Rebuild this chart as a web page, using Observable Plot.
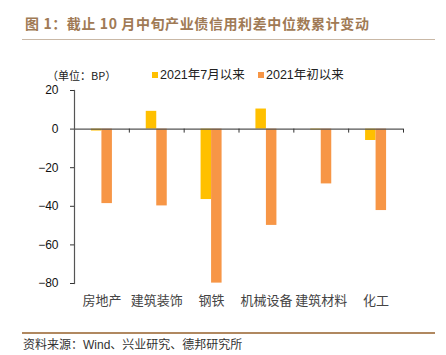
<!DOCTYPE html>
<html>
<head>
<meta charset="utf-8">
<script src="https://cdn.jsdelivr.net/npm/d3@7"></script>
<script src="https://cdn.jsdelivr.net/npm/@observablehq/plot@0.6"></script>
<style>
  html, body { margin: 0; padding: 0; background: #fff; }
  #page { position: relative; width: 446px; height: 355px; overflow: hidden; font-family: "Liberation Sans", "Noto Sans CJK SC", sans-serif; }
  #title { position: absolute; left: 25px; top: 14px; font: bold 14px "Noto Sans CJK SC", sans-serif; letter-spacing: 0.6px; color: #a07a55; white-space: nowrap; line-height: 18px; }
  #titleLine { position: absolute; left: 22px; top: 39px; width: 413px; height: 1px; background: #c9b8a6; }
  #unit { position: absolute; left: 47px; top: 68px; font: 11px "Noto Sans CJK SC", sans-serif; color: #222; line-height: 14px; white-space: nowrap; }
  .leg { position: absolute; top: 67px; font: 12.5px "Liberation Sans", "Noto Sans CJK SC", sans-serif; color: #222; line-height: 16px; white-space: nowrap; display: flex; align-items: center; }
  .sw { display: inline-block; width: 6px; height: 6px; margin-right: 2px; }
  #chart { position: absolute; left: 0; top: 80px; }
  #capLine { position: absolute; left: 22px; top: 332px; width: 413px; height: 2px; background: #b08860; }
  #caption { position: absolute; left: 23px; top: 337px; font: 12px "Liberation Sans", "Noto Sans CJK SC", sans-serif; color: #333; line-height: 16px; white-space: nowrap; }
</style>
</head>
<body>
<div id="page">
  <div id="title"></div>
  <div id="titleLine"></div>
  <div id="unit"></div>
  <div id="leg1" class="leg" style="left:152px"></div>
  <div id="leg2" class="leg" style="left:258px"></div>
  <div id="chart"></div>
  <div id="capLine"></div>
  <div id="caption"></div>
</div>
<script>
const titleText = "图 1：截止 10 月中旬产业债信用利差中位数累计变动";
const unitText = "（单位：BP）";
const captionText = "资料来源：Wind、兴业研究、德邦研究所";
const categories = ["房地产", "建筑装饰", "钢铁", "机械设备", "建筑材料", "化工"];
const seriesNames = ["2021年7月以来", "2021年初以来"];
const seriesColors = ["#FFC000", "#F79646"];
const sinceJuly = [-1, 9.2, -36.5, 10.4, -0.5, -5.9];
const sinceStart = [-38.6, -39.8, -79.8, -49.9, -28.4, -42.2];
const yTicks = [20, 0, -20, -40, -60, -80];

document.getElementById("title").textContent = titleText;
document.getElementById("unit").textContent = unitText;
document.getElementById("caption").textContent = captionText;
["leg1", "leg2"].forEach((id, k) => {
  const el = document.getElementById(id);
  const sw = document.createElement("span");
  sw.className = "sw";
  sw.style.background = seriesColors[k];
  el.appendChild(sw);
  el.appendChild(document.createTextNode(seriesNames[k]));
});

const rows = categories.map((c, i) => ({cat: c, i, a: sinceJuly[i], b: sinceStart[i]}));
const boundaries = [...rows.map(d => d.i), categories.length];

const W = 446, H = 230, mL = 74, mR = 43, mT = 10, mB = 27;
const bw = (W - mL - mR) / categories.length;
const barW = 10.5;

const chart = Plot.plot({
  width: W,
  height: H,
  marginLeft: mL,
  marginRight: mR,
  marginTop: mT,
  marginBottom: mB,
  style: {fontFamily: "'Liberation Sans', 'Noto Sans CJK SC', sans-serif", fontSize: "12px", color: "#222", background: "transparent", overflow: "visible"},
  x: {domain: [0, categories.length], axis: null},
  y: {domain: [-80, 20], axis: null},
  marks: [
    Plot.rectY(rows, {x1: "i", x2: d => d.i + 1, y: "a", fill: seriesColors[0], insetLeft: bw / 2 - barW, insetRight: bw / 2}),
    Plot.rectY(rows, {x1: "i", x2: d => d.i + 1, y: "b", fill: seriesColors[1], insetLeft: bw / 2, insetRight: bw / 2 - barW}),
    Plot.ruleY([0], {stroke: "#555", strokeWidth: 1.2}),
    Plot.ruleX(boundaries, {x: d => d, y1: 0, y2: 0, insetBottom: -4, stroke: "#333"}),
    Plot.frame({anchor: "left", stroke: "#555", strokeWidth: 1.2}),
    Plot.axisY({ticks: yTicks, tickSize: 4, tickPadding: 12, stroke: "#333", fontSize: 12, fill: "#111"}),
    Plot.text(rows, {x: d => d.i + 0.5, text: "cat", frameAnchor: "bottom", dy: 17, lineAnchor: "middle", fontSize: 13, fontFamily: "'Noto Sans CJK SC', sans-serif", fill: "#444"})
  ]
});
document.getElementById("chart").appendChild(chart);
</script>
</body>
</html>
